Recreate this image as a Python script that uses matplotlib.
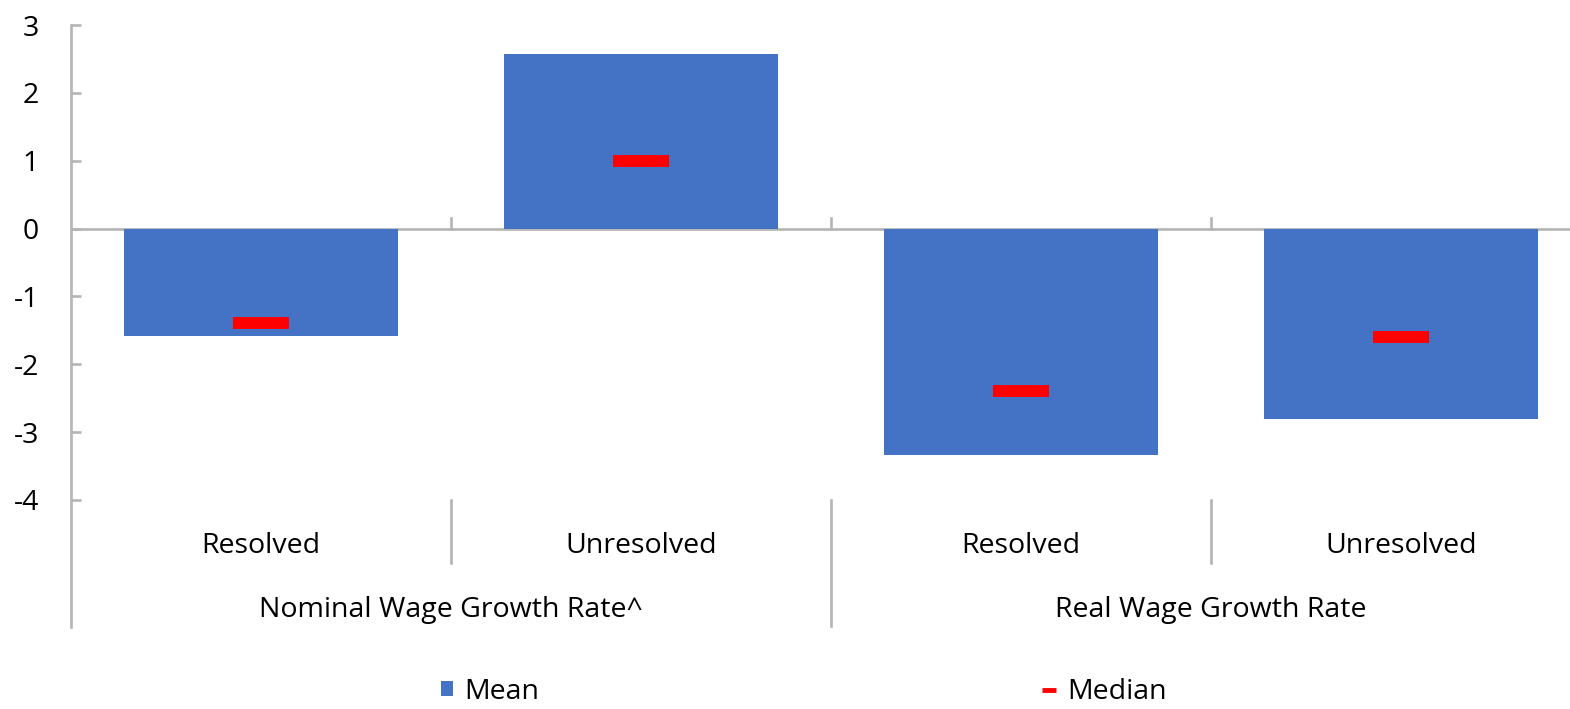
import matplotlib
matplotlib.use("Agg")
import matplotlib.pyplot as plt
from matplotlib.patches import Patch
from matplotlib.lines import Line2D
import numpy as np

# data
categories = ["Resolved", "Unresolved", "Resolved", "Unresolved"]
groups = ["Nominal Wage Growth Rate^", "Real Wage Growth Rate"]
mean_vals = [-1.59, 2.57, -3.33, -2.81]
median_vals = [-1.39, 0.99, -2.40, -1.60]
y_ticks = [3, 2, 1, 0, -1, -2, -3, -4]

blue = "#4472C4"
red = "#FF0000"
grey = "#B4B4B4"

plt.rcParams['font.family'] = ['Open Sans', 'DejaVu Sans']
fs = 20.5

fig = plt.figure(figsize=(15.7, 7.09), dpi=100)
# axes runs slightly past the right edge, like the original
ax = fig.add_axes([0.0452, 0.2948, 0.968, 0.6699])

x = np.arange(len(categories))
ax.bar(x, mean_vals, width=0.72, color=blue, zorder=2)
ax.plot(x, median_vals, linestyle='none', marker='_', color=red,
        markersize=40, markeredgewidth=8.6, zorder=3)

ax.set_xlim(-0.5, 3.5)
ax.set_ylim(-4, 3)

# axis lines
for s in ax.spines.values():
    s.set_visible(False)
ax.axhline(0, color=grey, lw=1.9, zorder=1)
# left axis line, running down past the category labels
ax.plot([0, 0], [1, -0.268], color=grey, lw=1.9, transform=ax.transAxes, clip_on=False)

# small ticks on the zero line at category boundaries
for b in x[:-1] + 0.5:
    ax.plot([b, b], [0, 0.15], color=grey, lw=1.9, zorder=1)

# separators below the axis
trans = ax.get_xaxis_transform()
for b in x[:-1] + 0.5:
    low = -0.265 if b == 1.5 else -0.133
    ax.plot([b, b], [0, low], color=grey, lw=1.9, transform=trans, clip_on=False)

ax.set_yticks(y_ticks)
ax.set_yticklabels([str(t) for t in y_ticks], fontsize=fs)
ax.tick_params(axis='y', direction='in', length=7.5, width=1.9, color=grey, pad=23)
ax.set_xticks([])

# category and group labels
for xi, c in zip(x, categories):
    ax.text(xi, -0.097, c, transform=trans, ha='center', va='center', fontsize=fs)
for gi, g in enumerate(groups):
    ax.text(gi * 2 + 0.5, -0.232, g, transform=trans, ha='center', va='center', fontsize=fs)

handles = [Patch(facecolor=blue, label="Mean"),
           Line2D([], [], color=red, linestyle='none', marker='_',
                  markersize=10, markeredgewidth=3.5, label="Median")]
fig.legend(handles=handles, loc='center', bbox_to_anchor=(0.512, 0.024), ncol=2,
           frameon=False, fontsize=fs, handlelength=0.42, handleheight=0.42,
           handletextpad=0.4, columnspacing=17.7)

fig.savefig("out.png", dpi=100)
